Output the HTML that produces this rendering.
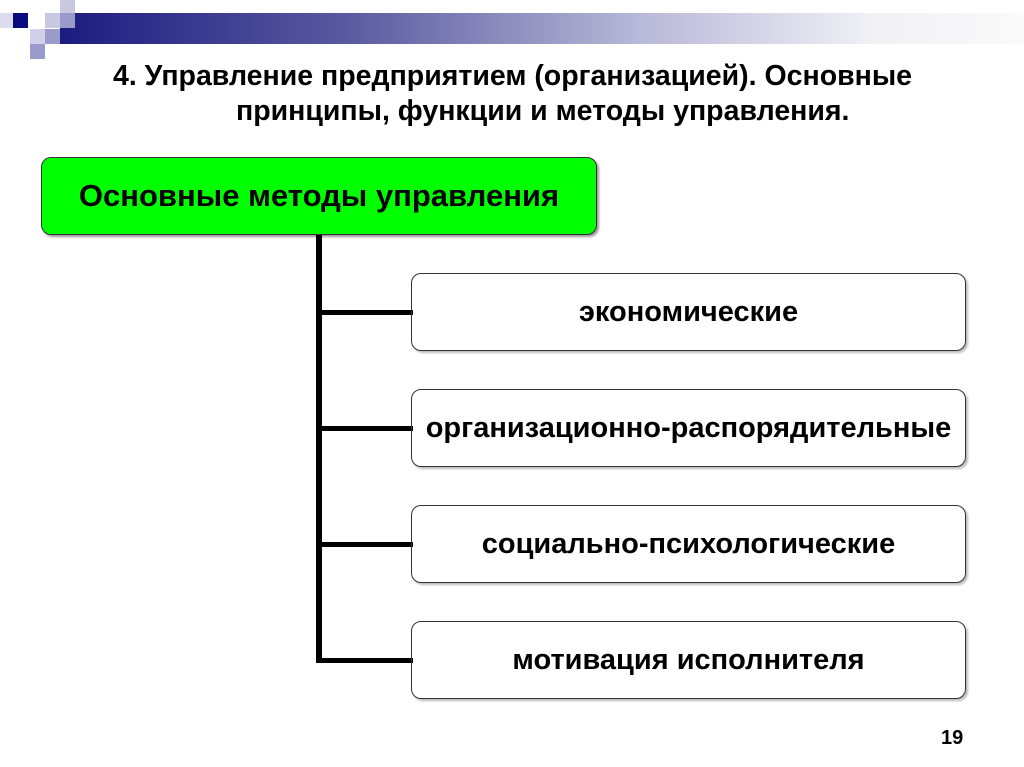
<!DOCTYPE html>
<html><head><meta charset="utf-8"><style>
body{margin:0;width:1024px;height:767px;background:#fff;position:relative;overflow:hidden;font-family:"Liberation Sans",sans-serif}
.a{position:absolute}
.sq{position:absolute;width:15px;height:15px}
.t{font-weight:bold;font-size:28.5px;color:#000;white-space:nowrap;line-height:1}
.box{position:absolute;left:411px;width:553px;height:76px;border:1.5px solid #333;border-radius:10px;display:flex;align-items:center;justify-content:center;font-weight:bold;font-size:29px;box-shadow:2px 2px 2px #bbb;white-space:nowrap}
.h{position:absolute;left:317px;width:96px;height:5px;background:#000}
</style></head><body>
<div class="a" style="left:60px;top:13px;width:964px;height:31px;background:linear-gradient(to right,#1c1c80,#5a5aa0 30%,#b8b8d8 60%,#f2f2f6 85%,#fafafa)"></div>
<div class="sq" style="left:0;top:13px;background:#dcdcee"></div>
<div class="sq" style="left:13px;top:13px;background:#0a0a80"></div>
<div class="sq" style="left:45px;top:13px;background:#c8c8e2"></div>
<div class="sq" style="left:60px;top:0;background:#c8c8e2"></div>
<div class="sq" style="left:60px;top:13px;background:#9a9acb"></div>
<div class="sq" style="left:30px;top:29px;background:#d0d0e8"></div>
<div class="sq" style="left:45px;top:29px;background:#9a9acb"></div>
<div class="sq" style="left:30px;top:44px;background:#9a9acb"></div>
<div class="a t" style="left:113px;top:62px">4. Управление предприятием (организацией). Основные</div>
<div class="a t" style="left:236px;top:97px">принципы, функции и методы управления.</div>
<div class="a" style="left:41px;top:157px;width:554px;height:76px;background:#00ff00;border:1.5px solid #333;border-radius:10px;display:flex;align-items:center;justify-content:center;font-size:31px;font-weight:bold;box-shadow:2px 2px 2px #999;white-space:nowrap">Основные методы управления</div>
<div class="a" style="left:316px;top:235px;width:6px;height:428px;background:#000"></div>
<div class="h" style="top:310px"></div>
<div class="h" style="top:426px"></div>
<div class="h" style="top:542px"></div>
<div class="h" style="top:658px"></div>
<div class="box" style="top:273px">экономические</div>
<div class="box" style="top:389px">организационно-распорядительные</div>
<div class="box" style="top:505px">социально-психологические</div>
<div class="box" style="top:621px">мотивация исполнителя</div>
<div class="a" style="left:941px;top:727px;font-size:20px;font-weight:bold">19</div>
</body></html>
